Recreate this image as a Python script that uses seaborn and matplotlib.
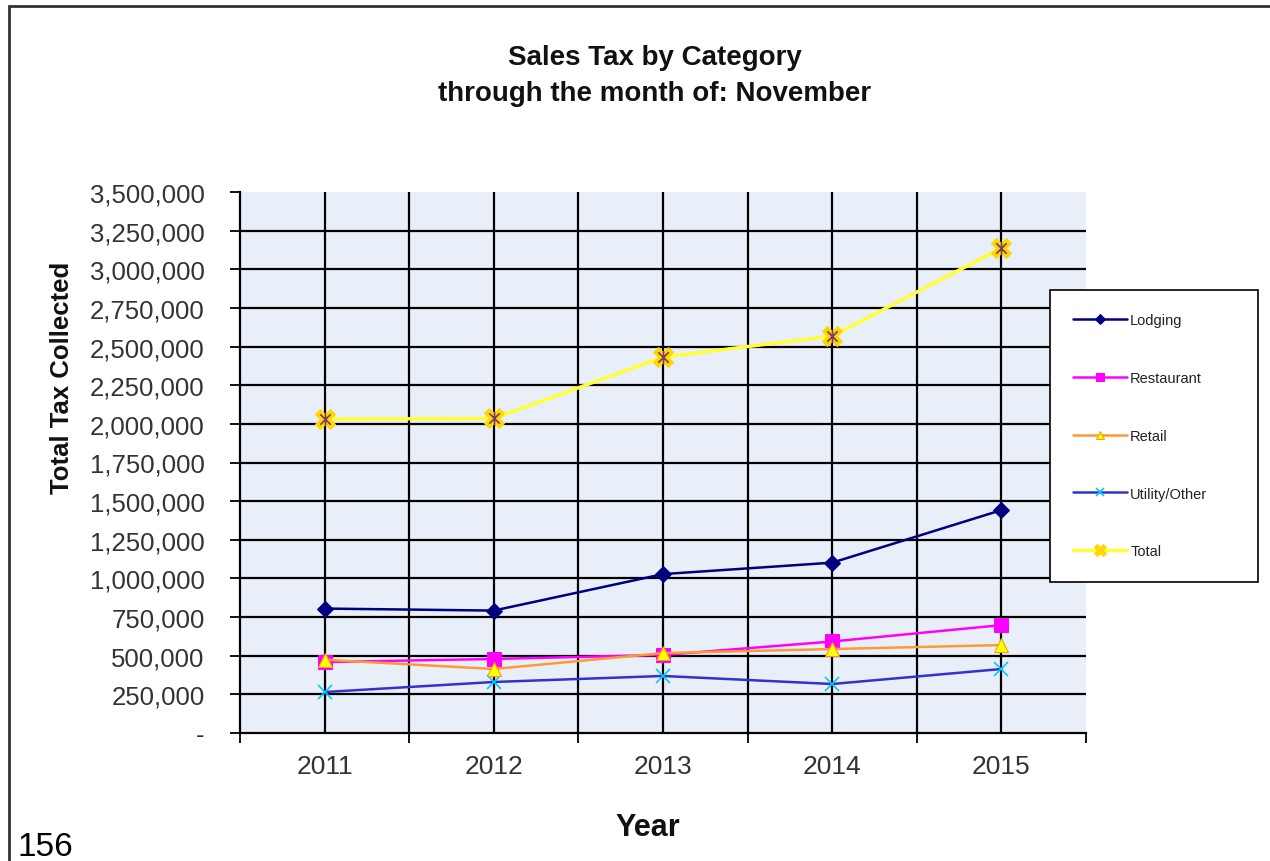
import matplotlib
matplotlib.use("Agg")
import matplotlib.pyplot as plt
import seaborn as sns
import numpy as np
import pandas as pd
from matplotlib.path import Path
from matplotlib.ticker import FuncFormatter, FixedLocator
from matplotlib.patches import Rectangle

years = ["2011", "2012", "2013", "2014", "2015"]
lodging = [805000, 792000, 1028000, 1102000, 1442000]
restaurant = [459000, 479000, 505000, 592000, 698000]
retail = [474000, 414000, 517000, 543000, 569000]
utility = [265000, 330000, 369000, 317000, 414000]
total = [2031000, 2035000, 2432000, 2568000, 3137000]
yticks = list(range(0, 3500001, 250000))

sns.set_theme(style="white")
plt.rcParams['font.family'] = ['Liberation Sans', 'DejaVu Sans']

fig = plt.figure(figsize=(12.7, 8.62), dpi=100)
ax = fig.add_axes([240/1270, 1-734/862, (1086-240)/1270, (734-193)/862])
ax.set_facecolor("#e9eff9")

xpos = np.arange(len(years))
df = pd.DataFrame({"x": xpos, "Lodging": lodging, "Restaurant": restaurant,
                   "Retail": retail, "Utility/Other": utility, "Total": total})

star = Path([(-1, -1), (1, 1), (-1, 1), (1, -1), (0, -1.2), (0, 1.2)],
            [Path.MOVETO, Path.LINETO, Path.MOVETO, Path.LINETO, Path.MOVETO, Path.LINETO])

sns.lineplot(data=df, x="x", y="Lodging", ax=ax, color="#000080", lw=1.8,
             marker="D", markersize=8, markerfacecolor="#000080", markeredgecolor="#000080",
             label="Lodging", zorder=5)
sns.lineplot(data=df, x="x", y="Restaurant", ax=ax, color="#ff00ff", lw=1.8,
             marker="s", markersize=10, markerfacecolor="#ff00ff", markeredgecolor="#ff00ff",
             label="Restaurant", zorder=5)
sns.lineplot(data=df, x="x", y="Retail", ax=ax, color="#ff9933", lw=1.8,
             marker="^", markersize=10, markerfacecolor="#ffff00", markeredgecolor="#ff9900",
             label="Retail", zorder=6)
sns.lineplot(data=df, x="x", y="Utility/Other", ax=ax, color="#3333cc", lw=1.8,
             marker="x", markersize=10, markeredgecolor="#00ccff", mew=1.2,
             label="Utility/Other", zorder=5)
sns.lineplot(data=df, x="x", y="Total", ax=ax, color="#ffff33", lw=2.5,
             marker="X", markersize=14, markerfacecolor="#ffd700", markeredgecolor="#ffd700",
             label="Total", zorder=5)
ax.plot(df["x"], df["Total"], ls="none", marker=star, markersize=9,
        markeredgecolor="#7a3a6a", mew=1.2, zorder=7)

ax.set_xlim(-0.5, 4.5)
ax.set_ylim(0, 3500000)
ax.xaxis.set_major_locator(FixedLocator(np.arange(-0.5, 4.6, 1.0)))
ax.set_xticklabels([])
ax.set_xticks(xpos, labels=years, minor=True)
ax.set_yticks(yticks)
ax.yaxis.set_major_formatter(FuncFormatter(lambda v, p: "-" if v == 0 else f"{int(v):,}"))

for v in yticks[1:-1]:
    ax.axhline(v, color="black", lw=1.6, zorder=1)
for v in list(np.arange(0.5, 4.0, 1.0)) + list(xpos):
    ax.axvline(v, color="black", lw=1.6, zorder=1)

ax.tick_params(axis="y", which="major", direction="out", length=7.5, width=1.3,
               color="black", pad=18, labelsize=18.5, labelcolor="#333333", left=True)
ax.tick_params(axis="x", which="major", direction="out", length=7.5, width=1.3,
               color="black", bottom=True)
ax.tick_params(axis="x", which="minor", length=0, pad=15, labelsize=19, labelcolor="#333333")

for s in ["top", "right"]:
    ax.spines[s].set_visible(False)
for s in ["left", "bottom"]:
    ax.spines[s].set_color("black")
    ax.spines[s].set_linewidth(1.6)

ax.set_xlabel("")
ax.set_ylabel("")
fig.text(648/1270, 1-828/862, "Year", ha="center", va="center",
         fontsize=22, fontweight="bold", color="#111111")
fig.text(62/1270, 1-378/862, "Total Tax Collected", ha="center", va="center", rotation=90,
         fontsize=18.5, fontweight="bold", color="#111111")

fig.text(655/1270, 1-58/862, "Sales Tax by Category", ha="center", va="center",
         fontsize=20, fontweight="bold", color="#111111")
fig.text(655/1270, 1-94/862, "through the month of: November", ha="center", va="center",
         fontsize=20, fontweight="bold", color="#111111")

h, l = ax.get_legend_handles_labels()
ax.get_legend().remove()
leg = fig.legend(h, l, loc="upper left",
                 bbox_to_anchor=(1050/1270, 1-578/862, (1258-1050)/1270, (578-291)/862),
                 mode="expand", frameon=True, fancybox=False, fontsize=10.5, labelspacing=3.0,
                 borderpad=1.6, handlelength=3.7, borderaxespad=0, handletextpad=0.2,
                 markerscale=0.6, framealpha=1)
leg.get_frame().set_edgecolor("black")
leg.get_frame().set_linewidth(1.2)
leg.get_frame().set_facecolor("white")
leg.set_zorder(20)
for t in leg.get_texts():
    t.set_color("#222222")

fig.patches.append(Rectangle((9/1270, -0.1), 1.1, 1.1 - 7/862, transform=fig.transFigure,
                             fill=False, edgecolor="#333333", lw=2))
fig.text(18/1270, 6/862, "156", ha="left", va="baseline", fontsize=24, color="black")

fig.savefig("out.png", dpi=100)
